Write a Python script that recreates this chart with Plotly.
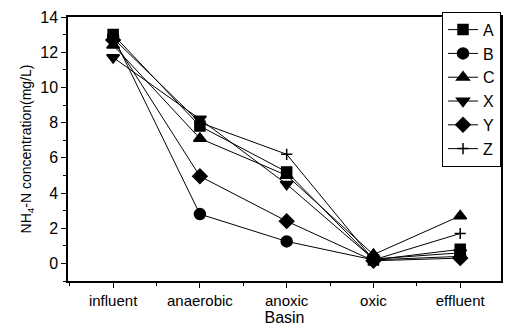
import plotly.graph_objects as go

categories = ["influent", "anaerobic", "anoxic", "oxic", "effluent"]
series_names = ["A", "B", "C", "X", "Y", "Z"]
A = [13.0, 7.8, 5.2, 0.2, 0.8]
B = [12.9, 2.8, 1.25, 0.2, 0.4]
C = [12.4, 7.1, 5.0, 0.5, 2.7]
X = [11.7, 8.2, 4.5, 0.25, 0.6]
Y = [12.7, 4.95, 2.4, 0.15, 0.3]
Z = [12.8, 8.0, 6.2, 0.2, 1.7]
values = [A, B, C, X, Y, Z]
symbols = ["square", "circle", "triangle-up", "triangle-down", "diamond", "cross-thin"]
sizes = [10, 11, 11, 11, 11, 8]

xpos = list(range(1, len(categories) + 1))

fig = go.Figure()
for name, vals, sym, sz in zip(series_names, values, symbols, sizes):
    fig.add_trace(go.Scatter(
        x=xpos, y=vals, name=name, mode="lines+markers",
        line=dict(color="black", width=1),
        marker=dict(symbol=sym, size=sz, color="black",
                    line=dict(color="black", width=1.5)),
    ))

fam = "Arial, Liberation Sans, sans-serif"
font = dict(family=fam, size=15, color="black")
fig.update_layout(
    width=512, height=332,
    margin=dict(l=68, r=9, t=15, b=49),
    paper_bgcolor="white", plot_bgcolor="white",
    font=font, showlegend=True,
    legend=dict(x=1, y=1.02, xanchor="right", yanchor="top",
                bordercolor="black", borderwidth=1, bgcolor="white",
                font=dict(family=fam, size=16), tracegroupgap=0, itemwidth=30),
    xaxis=dict(range=[0.48, 5.47], tickmode="array", tickvals=xpos,
               ticktext=categories, showgrid=False, zeroline=False,
               showline=True, linecolor="black", linewidth=1.5, mirror=True,
               ticks="outside", ticklen=5, tickcolor="black",
               minor=dict(ticks="outside", ticklen=3, dtick=0.5, tick0=0.5, tickcolor="black"),
               title=dict(text="Basin", standoff=3, font=dict(family=fam, size=16, color="black")),
               tickfont=dict(family=fam, size=15, color="black")),
    yaxis=dict(range=[-1, 14], tickmode="linear", tick0=0, dtick=2,
               showgrid=False, zeroline=False,
               showline=True, linecolor="black", linewidth=1.5, mirror=True,
               ticks="outside", ticklen=5, tickcolor="black",
               minor=dict(ticks="outside", ticklen=3, dtick=1, tickcolor="black"),
               title=dict(text="NH<sub>4</sub>-N concentration(mg/L)", standoff=5,
                          font=dict(family=fam, size=14, color="black")),
               tickfont=dict(family=fam, size=16, color="black")),
)

fig.write_html("out.html")
